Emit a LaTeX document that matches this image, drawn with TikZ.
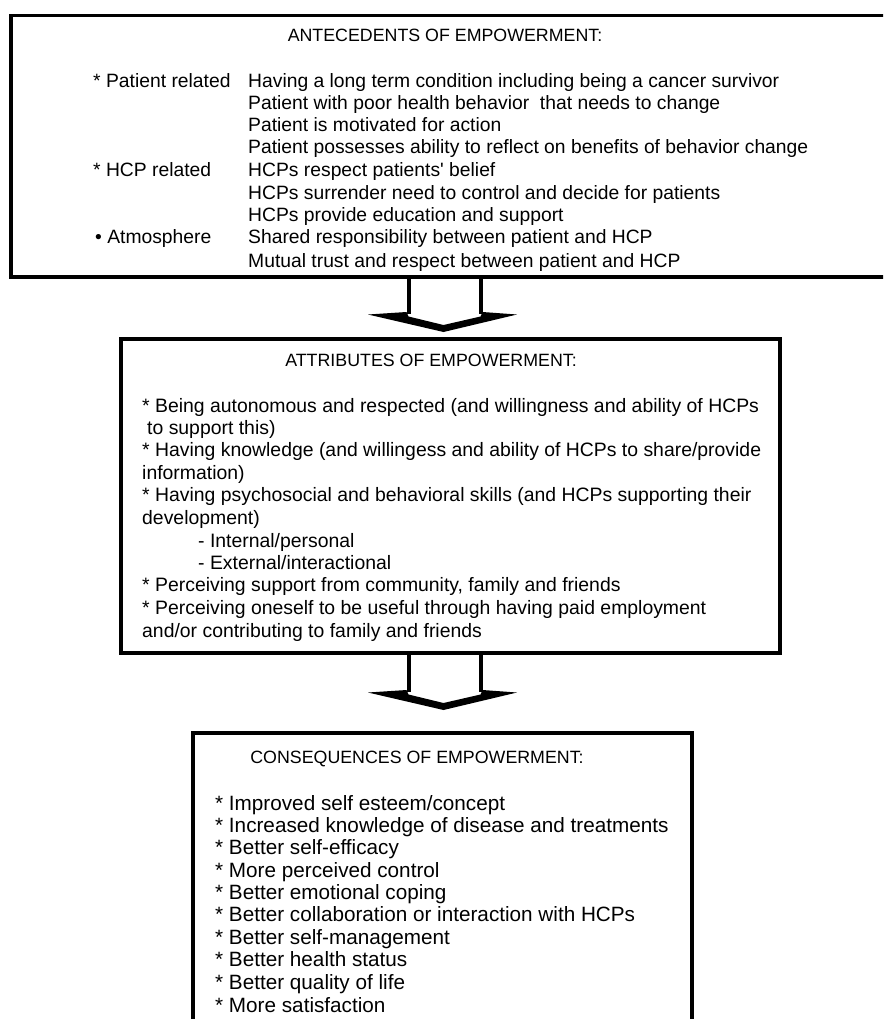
\documentclass[tikz,border=0pt]{standalone}
\usepackage{fontspec}
\setmainfont{Liberation Sans}[Ligatures=TeXOff]
\begin{document}
\begin{tikzpicture}[x=1pt,y=-1pt,
  box/.style={draw=black, line width=3.8pt, inner sep=0pt, outer sep=0pt},
  stem/.style={draw=black, line width=4pt, line cap=butt},
  ttl/.style={anchor=base, inner sep=0pt, font=\fontsize{17.8}{20}\selectfont},
  ta/.style={anchor=base west, inner sep=0pt, font=\fontsize{19.3}{22}\selectfont},
  tb/.style={anchor=base west, inner sep=0pt, font=\fontsize{19.4}{22}\selectfont},
  tc/.style={anchor=base west, inner sep=0pt, font=\fontsize{20.7}{22}\selectfont},
  blockarr/.pic={
    \draw[stem] (-36,0) -- (-36,37);
    \draw[stem] (36,0) -- (36,37);
    \fill[black] (-76.5,37.5) -- (-38,35) -- (-36,39.5) -- (-1,48) -- (36,39.5) -- (38,35)
       -- (72.5,37.5) -- (-1,55) -- cycle;
  }]
\useasboundingbox (0,0) rectangle (883,1019);
\clip (0,0) rectangle (883,1019);
\fill[white] (0,0) rectangle (883,1019);

% boxes
\node[box, minimum width=884pt, minimum height=261.5pt] (b1) at (453,146.25) {};
\node[box, minimum width=659pt, minimum height=314pt] (b2) at (450.5,496) {};
\node[box, minimum width=499pt, minimum height=337pt] (b3) at (442.5,901.5) {};

% block arrows
\coordinate (ax) at (444.5,0);
\coordinate (s1) at (ax |- b1.south);
\coordinate (s2) at (ax |- b2.south);
\pic at (s1) {blockarr};
\pic at ([yshift=-2pt]s2) {blockarr};

% box 1 text
\node[ttl] (h1) at (445,42) {ANTECEDENTS OF EMPOWERMENT:};
\node[ta] (l1) at (93,88) {* Patient related};
\node[ta] (l2) at (93,177) {* HCP related};
\node[ta] (l3) at (95,243) {• Atmosphere};
\node[ta] (a1) at (248,88) {Having a long term condition including being a cancer survivor};
\node[ta] (a2) at (248,110) {Patient with poor health behavior\ \ that needs to change};
\node[ta] (a3) at (248,132) {Patient is motivated for action};
\node[ta] (a4) at (248,154) {Patient possesses ability to reflect on benefits of behavior change};
\node[ta] (a5) at (248,177) {HCPs respect patients' belief};
\node[ta] (a6) at (248,199) {HCPs surrender need to control and decide for patients};
\node[ta] (a7) at (248,221) {HCPs provide education and support};
\node[ta] (a8) at (248,243) {Shared responsibility between patient and HCP};
\node[ta] (a9) at (248,267) {Mutual trust and respect between patient and HCP};

% box 2 text
\node[ttl] (h2) at (431,366.5) {ATTRIBUTES OF EMPOWERMENT:};
\node[tb] (c1) at (142,412) {* Being autonomous and respected (and willingness and ability of HCPs};
\node[tb] (c2) at (147,434) {to support this)};
\node[tb] (c3) at (142,456) {* Having knowledge (and willingess and ability of HCPs to share/provide};
\node[tb] (c4) at (142,479) {information)};
\node[tb] (c5) at (142,501) {* Having psychosocial and behavioral skills (and HCPs supporting their};
\node[tb] (c6) at (142,524) {development)};
\node[tb] (c7) at (198,547) {- Internal/personal};
\node[tb] (c8) at (198,569) {- External/interactional};
\node[tb] (c9) at (142,591) {* Perceiving support from community, family and friends};
\node[tb] (c10) at (142,614) {* Perceiving oneself to be useful through having paid employment};
\node[tb] (c11) at (142,637) {and/or contributing to family and friends};

% box 3 text
\node[ttl] (h3) at (417,763.5) {CONSEQUENCES OF EMPOWERMENT:};
\node[tc] (d1) at (215,810) {* Improved self esteem/concept};
\node[tc] (d2) at (215,832) {* Increased knowledge of disease and treatments};
\node[tc] (d3) at (215,854) {* Better self-efficacy};
\node[tc] (d4) at (215,877) {* More perceived control};
\node[tc] (d5) at (215,899) {* Better emotional coping};
\node[tc] (d6) at (215,921) {* Better collaboration or interaction with HCPs};
\node[tc] (d7) at (215,944) {* Better self-management};
\node[tc] (d8) at (215,966) {* Better health status};
\node[tc] (d9) at (215,989) {* Better quality of life};
\node[tc] (d10) at (215,1012) {* More satisfaction};
\end{tikzpicture}
\end{document}
